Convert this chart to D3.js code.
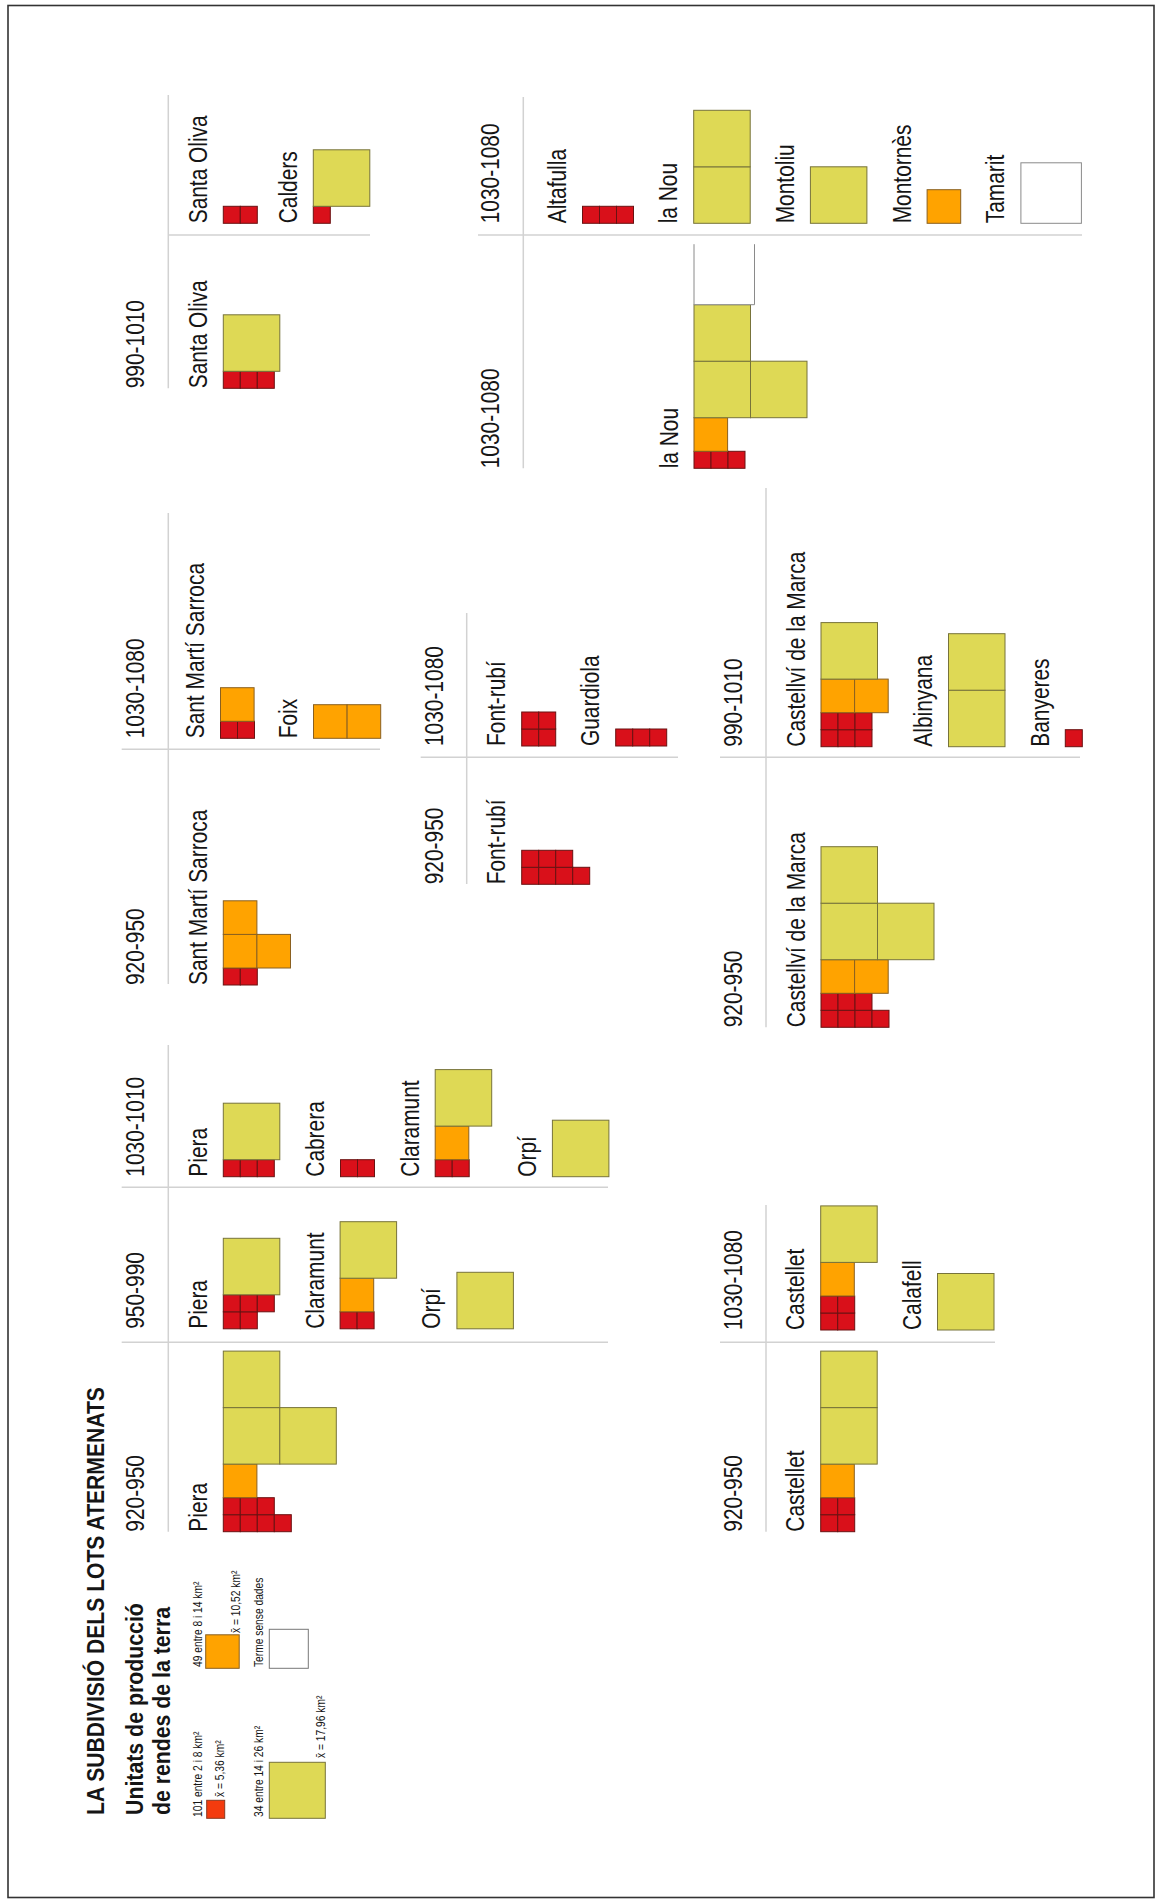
<!DOCTYPE html>
<html><head><meta charset="utf-8">
<script src="https://cdn.jsdelivr.net/npm/d3@7"></script>
<style>body{margin:0;background:#fff}</style>
</head><body><svg id="c" width="1159" height="1899"></svg>
<script>
// ---------- DATA ----------
const categories = ["r", "o", "y", "w"]; // 2-8 km², 8-14 km², 14-26 km², sense dades
const categoryColors = ["#D9101A", "#FFA300", "#DED955", "#FFFFFF"];
const categoryStroke = ["#6a1212", "#8a6020", "#77733a", "#8a8a8a"];

const periodLabels = ["", "990-1010", "1030-1080", "920-950", "1030-1010", "950-990", "920-950",
  "1030-1080", "920-950", "1030-1080", "1030-1080", "990-1010", "920-950", "1030-1080", "920-950"];

// each site: [name, rows from bottom: [category, count]]
const panelSites = [
  [["Santa Oliva", [["r",2]]], ["Calders", [["r",1],["y",1]]]],
  [["Santa Oliva", [["r",3],["y",1]]]],
  [["Sant Martí Sarroca", [["r",2],["o",1]]], ["Foix", [["o",2]]]],
  [["Sant Martí Sarroca", [["r",2],["o",2],["o",1]]]],
  [["Piera", [["r",3],["y",1]]], ["Cabrera", [["r",2]]], ["Claramunt", [["r",2],["o",1],["y",1]]], ["Orpí", [["y",1]]]],
  [["Piera", [["r",2],["r",3],["y",1]]], ["Claramunt", [["r",2],["o",1],["y",1]]], ["Orpí", [["y",1]]]],
  [["Piera", [["r",4],["r",3],["o",1],["y",2],["y",1]]]],
  [["Font-rubí", [["r",2],["r",2]]], ["Guardiola", [["r",3]]]],
  [["Font-rubí", [["r",4],["r",3]]]],
  [["Altafulla", [["r",3]]], ["la Nou", [["y",1],["y",1]]], ["Montoliu", [["y",1]]], ["Montornès", [["o",1]]], ["Tamarit", [["w",1]]]],
  [["la Nou", [["r",3],["o",1],["y",2],["y",1],["w",1]]]],
  [["Castellví de la Marca", [["r",3],["r",3],["o",2],["y",1]]], ["Albinyana", [["y",1],["y",1]]], ["Banyeres", [["r",1]]]],
  [["Castellví de la Marca", [["r",4],["r",3],["o",2],["y",2],["y",1]]]],
  [["Castellet", [["r",2],["r",2],["o",1],["y",1]]], ["Calafell", [["y",1]]]],
  [["Castellet", [["r",2],["r",2],["o",1],["y",1],["y",1]]]]
];

const legendCounts = ["101 entre 2 i 8 km²", "49 entre 8 i 14 km²", "34 entre 14 i 26 km²", "Terme sense dades"];
const legendMeans = ["x̄ =  5,36 km²", "x̄ =  10,52 km²", "x̄ =  17,96 km²", ""];

// ---------- LAYOUT ----------
const W = 1159, H = 1899;
const FONT = "'Liberation Sans', Arial, Helvetica, sans-serif";
// panel: band divider x, first glyph x, glyph bottom y (page coords), gap between sites
const panelLayout = [
  {lx:168.3, x0:223.3, b:223.3, gap:56},
  {lx:168.3, x0:223.3, b:388.3, gap:60},
  {lx:168.3, x0:220.5, b:738.3, gap:59},
  {lx:168.3, x0:223.3, b:985, gap:60},
  {lx:168.3, x0:223.3, b:1176.7, gap:60.7},
  {lx:168.3, x0:223.3, b:1328.8, gap:60.3},
  {lx:168.3, x0:223.3, b:1531.7, gap:60},
  {lx:466.7, x0:521.7, b:746, gap:60},
  {lx:466.7, x0:521.7, b:884.3, gap:60},
  {lx:523.3, x0:582.5, b:223.3, gap:60.2},
  {lx:523.3, x0:694,   b:468.3, gap:60},
  {lx:766,   x0:821,   b:746.7, gap:60.3},
  {lx:766,   x0:821,   b:1027.3, gap:60},
  {lx:766,   x0:820.7, b:1330, gap:60.3},
  {lx:766,   x0:820.7, b:1531.7, gap:60}
];
const vDividers = [[168.3,95,388.3],[168.3,513,984],[168.3,1045,1531.7],[466.7,613,884],[523.3,97,468.3],[766,488,1027.3],[766,1205,1531.7]];
const hDividers = [[235,168.3,370],[749.3,121.7,380],[1187.3,121.7,608],[1342.3,121.7,608],[757.3,420.7,678],[235,478,1082],[757.3,720,1080],[1342.3,720,995]];

const color = d3.scaleOrdinal().domain(categories).range(categoryColors);
const stroke = d3.scaleOrdinal().domain(categories).range(categoryStroke);
const size = d3.scaleOrdinal().domain(categories).range([17, 33.6, 56.5, 60.5]);

const svg = d3.select("#c");
svg.append("rect").attr("width", W).attr("height", H).attr("fill", "#fff");
svg.append("rect").attr("x", 8).attr("y", 5.5).attr("width", 1146).attr("height", 1892)
  .attr("fill", "none").attr("stroke", "#333").attr("stroke-width", 1.6);

function vtext(x, y, str, fs, sx, weight, fill) {
  svg.append("text")
    .attr("transform", `translate(${x},${y}) rotate(-90) scale(${sx},1)`)
    .attr("font-family", FONT).attr("font-size", fs)
    .attr("font-weight", weight || "normal")
    .attr("fill", fill || "#151515").text(str);
}

// dividers
svg.append("g").selectAll("line.v").data(vDividers).join("line")
  .attr("x1", d => d[0]).attr("x2", d => d[0]).attr("y1", d => d[1]).attr("y2", d => d[2])
  .attr("stroke", "#d2d2d2").attr("stroke-width", 1.5);
svg.append("g").selectAll("line.h").data(hDividers).join("line")
  .attr("y1", d => d[0]).attr("y2", d => d[0]).attr("x1", d => d[1]).attr("x2", d => d[2])
  .attr("stroke", "#d2d2d2").attr("stroke-width", 1.5);

// glyphs
const cells = [];
panelSites.forEach((sites, pi) => {
  const L = panelLayout[pi];
  if (periodLabels[pi]) vtext(L.lx - 24, L.b, periodLabels[pi], 25.5, 0.82);
  let x0 = L.x0;
  sites.forEach(([name, rows]) => {
    vtext(x0 - 16.5, L.b, name, 25.5, 0.82);
    let yb = L.b;
    rows.forEach(([cat, n], ri) => {
      const s = size(cat);
      d3.range(n).forEach(i => cells.push({cat, x: x0 + i * s, y: yb - s, s, stacked: ri > 0}));
      yb -= s;
    });
    x0 += d3.max(rows, ([c, n]) => n * size(c)) + L.gap;
  });
});
svg.append("g").selectAll("rect").data(cells).join("rect")
  .attr("x", d => d.x).attr("y", d => d.y).attr("width", d => d.s).attr("height", d => d.s)
  .attr("fill", d => color(d.cat)).attr("stroke", d => stroke(d.cat)).attr("stroke-width", 1)
  .attr("stroke-dasharray", d => (d.cat === "w" && d.stacked) ? `0 ${d.s} ${3 * d.s}` : null);

// title & legend
vtext(103.5, 1815, "LA SUBDIVISIÓ DELS LOTS ATERMENATS", 23, 0.918, "bold");
vtext(143, 1815, "Unitats de producció", 23.5, 0.907, "bold");
vtext(169.5, 1815, "de rendes de la terra", 23.5, 0.905, "bold");

const legendSq = [
  {x:206.7, b:1818.3, s:18, fill:"#F43B0E", st:"#8a3a20", tx:201.7, ty:1817, mx:224, my:1797},
  {x:205.7, b:1668.3, s:33.5, fill:color("o"), st:stroke("o"), tx:201.7, ty:1667, mx:240, my:1633},
  {x:269.3, b:1818.3, s:56, fill:color("y"), st:stroke("y"), tx:263.3, ty:1817, mx:325, my:1758},
  {x:269.3, b:1668.3, s:39, fill:"#fff", st:"#777", tx:263.3, ty:1667, mx:0, my:0}
];
svg.append("g").selectAll("rect").data(legendSq).join("rect")
  .attr("x", d => d.x).attr("y", d => d.b - d.s).attr("width", d => d.s).attr("height", d => d.s)
  .attr("fill", d => d.fill).attr("stroke", d => d.st).attr("stroke-width", 1);
legendSq.forEach((d, i) => {
  vtext(d.tx, d.ty, legendCounts[i], 13.5, 0.76);
  if (legendMeans[i]) vtext(d.mx, d.my, legendMeans[i], 13.5, 0.76);
});
</script></body></html>
